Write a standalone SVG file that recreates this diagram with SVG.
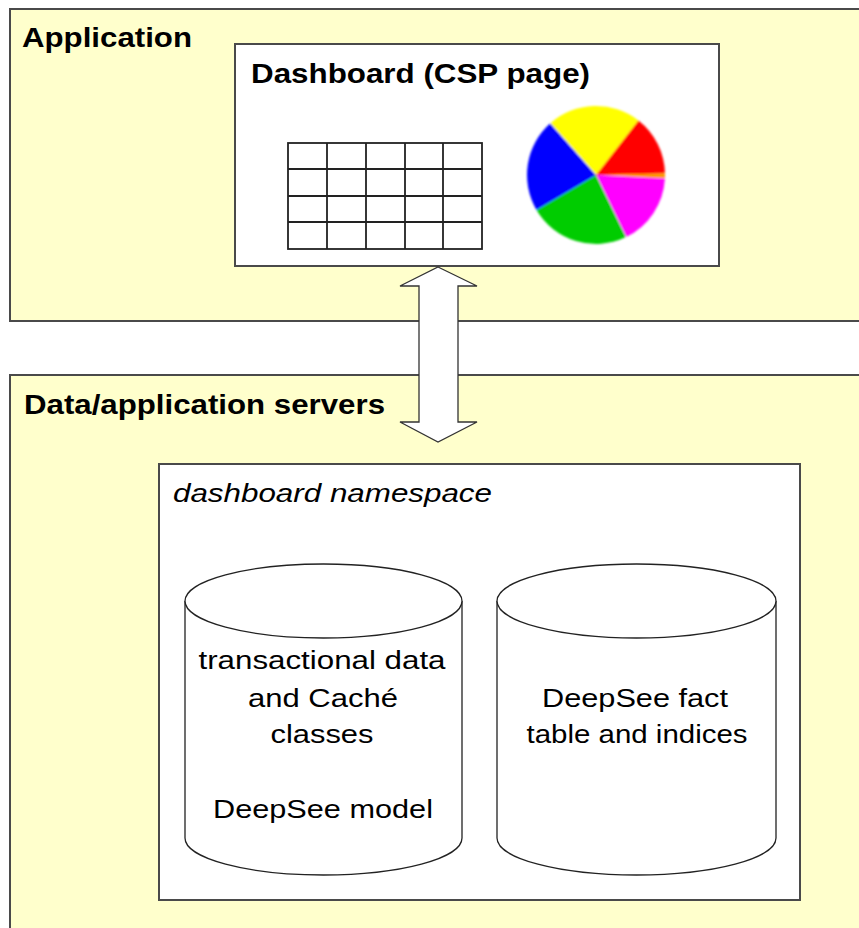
<svg xmlns="http://www.w3.org/2000/svg" width="859" height="928" viewBox="0 0 859 928">
<defs>
<style>
.zone{fill:#FFFFCC;stroke:#4a4a4a;stroke-width:2}
.box{fill:#FFFFFF;stroke:#4a4a4a;stroke-width:2}
.title{font-family:"Liberation Sans",Arial,sans-serif;font-weight:bold;font-size:27px;fill:#000}
.ital{font-family:"Liberation Sans",Arial,sans-serif;font-style:italic;font-size:26px;fill:#000}
.lbl{font-family:"Liberation Sans",Arial,sans-serif;font-size:25px;fill:#000;text-anchor:middle}
.cyl{fill:#FFFFFF;stroke:#222;stroke-width:1.3}
.grid{fill:none;stroke:#222;stroke-width:1.8}
</style>
<filter id="soft" x="-5%" y="-5%" width="110%" height="110%"><feGaussianBlur stdDeviation="0.8"/></filter>
</defs>
<rect width="859" height="928" fill="#FFFFFF"/>

<g id="application">
<rect class="zone" x="10" y="9" width="860" height="312"/>
<text class="title" x="22" y="47" textLength="170" lengthAdjust="spacingAndGlyphs">Application</text>
</g>

<g id="data-servers">
<rect class="zone" x="10" y="375" width="860" height="570"/>
<text class="title" x="24" y="414" textLength="361" lengthAdjust="spacingAndGlyphs">Data/application servers</text>
</g>

<g id="dashboard">
<rect class="box" x="235" y="44" width="484" height="222"/>
<text class="title" x="251" y="83" textLength="339" lengthAdjust="spacingAndGlyphs">Dashboard (CSP page)</text>
<g id="table">
<rect class="grid" x="288" y="143" width="194" height="106"/>
<path class="grid" d="M327,143V249M366,143V249M405,143V249M443,143V249M288,169H482M288,196H482M288,222H482"/>
</g>
<g id="pie" filter="url(#soft)">
<path d="M596,175L550.3,123.3A69,69 0 0 1 638.4,120.5Z" fill="#FFFF00"/>
<path d="M596,175L638.4,120.5A69,69 0 0 1 665,173.5Z" fill="#FF0000"/>
<path d="M596,175L665,173.5A69,69 0 0 1 664.9,178.6Z" fill="#FF9900"/>
<path d="M596,175L664.9,178.6A69,69 0 0 1 626,237.1Z" fill="#FF00FF"/>
<path d="M596,175L626,237.1A69,69 0 0 1 536.5,209.9Z" fill="#00CC00"/>
<path d="M596,175L536.5,209.9A69,69 0 0 1 550.3,123.3Z" fill="#0000FF"/>
</g>
</g>

<g id="namespace">
<rect class="box" x="159" y="464" width="641" height="436"/>
<text class="ital" x="173" y="502" textLength="319" lengthAdjust="spacingAndGlyphs">dashboard namespace</text>
</g>

<g id="cylinder-transactional">
<path class="cyl" d="M185,601V838A138.5,37 0 0 0 462,838V601"/>
<ellipse class="cyl" cx="323.5" cy="601" rx="138.5" ry="37"/>
<text class="lbl" x="322" y="669" textLength="247" lengthAdjust="spacingAndGlyphs">transactional data</text>
<text class="lbl" x="323" y="707" textLength="150" lengthAdjust="spacingAndGlyphs">and Caché</text>
<text class="lbl" x="322" y="743" textLength="103" lengthAdjust="spacingAndGlyphs">classes</text>
<text class="lbl" x="323" y="818" textLength="220" lengthAdjust="spacingAndGlyphs">DeepSee model</text>
</g>

<g id="cylinder-deepsee">
<path class="cyl" d="M497,601V838A139.5,37 0 0 0 776,838V601"/>
<ellipse class="cyl" cx="636.5" cy="601" rx="139.5" ry="37"/>
<text class="lbl" x="635" y="707" textLength="186" lengthAdjust="spacingAndGlyphs">DeepSee fact</text>
<text class="lbl" x="637" y="743" textLength="221" lengthAdjust="spacingAndGlyphs">table and indices</text>
</g>

<g id="connectors">
<polygon points="438,267 477,286 458,286 458,422 477,422 438,442 400,422 419,422 419,286 400,286" fill="#FFFFFF" stroke="#333" stroke-width="1.3" stroke-linejoin="miter"/>
</g>
</svg>
